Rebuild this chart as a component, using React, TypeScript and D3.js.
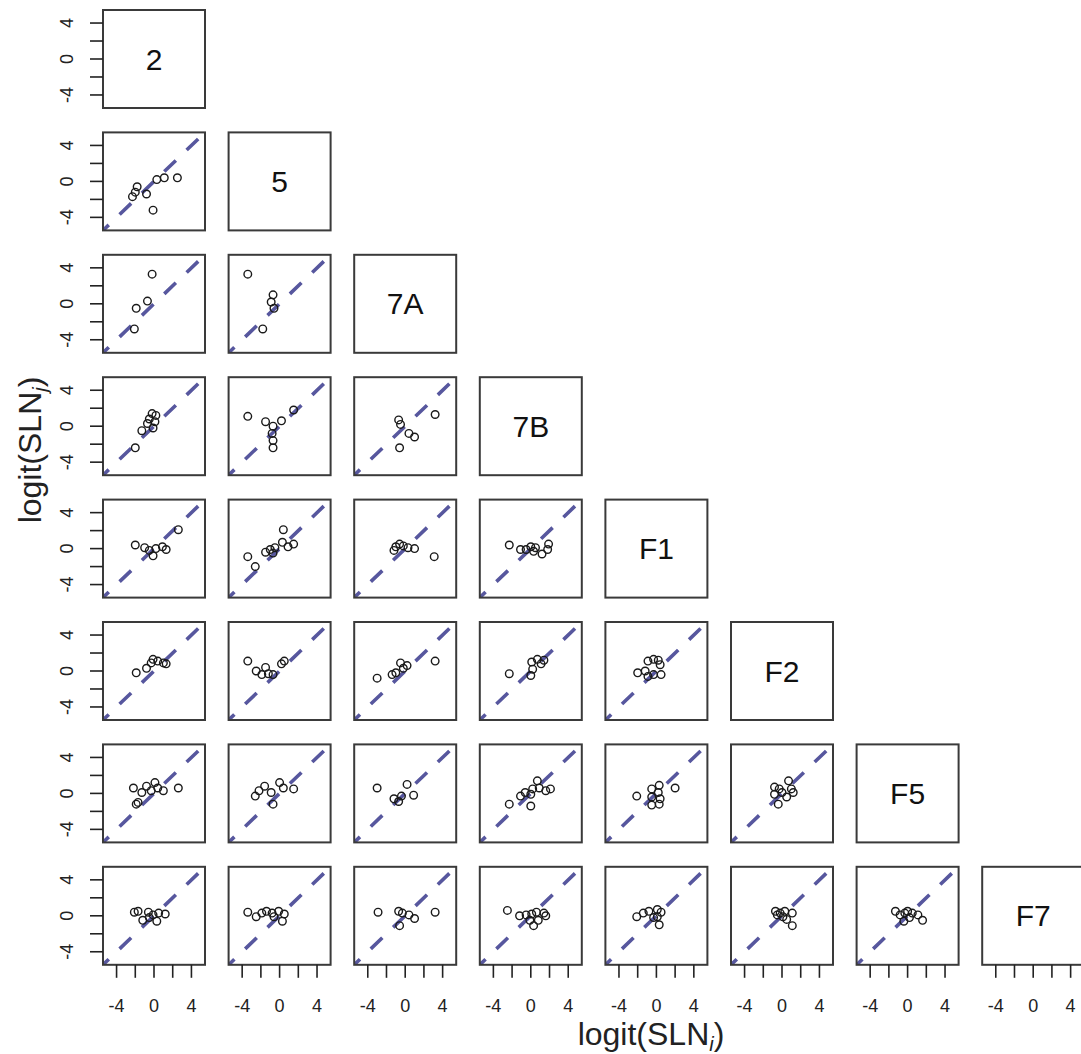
import React from "react";
import * as d3 from "d3";

// Variables on the diagonal
const VARS = ["2", "5", "7A", "7B", "F1", "F2", "F5", "F7"];
const TICKS = [-4, -2, 0, 2, 4];
const TICK_LABELS = [-4, 0, 4];
const DOMAIN: [number, number] = [-5.45, 5.45];

// Points per panel: [x (column variable), y (row variable)]
const y5_x2: [number, number][] = [[-1.8, -0.6], [-2.3, -1.7], [-2.0, -1.2], [-0.8, -1.4], [-0.1, -3.2], [0.3, 0.2], [1.1, 0.4], [2.5, 0.4]];

const y7A_x2: [number, number][] = [[-0.2, 3.3], [-0.7, 0.3], [-1.9, -0.5], [-2.1, -2.8]];
const y7A_x5: [number, number][] = [[-3.4, 3.3], [-0.7, 1.0], [-0.9, 0.2], [-0.6, -0.5], [-1.8, -2.8]];

const y7B_x2: [number, number][] = [[-0.2, 1.4], [0.2, 1.2], [-0.5, 0.8], [0.1, 0.5], [-0.1, -0.2], [-0.7, 0.3], [-1.3, -0.5], [-2.0, -2.4]];
const y7B_x5: [number, number][] = [[-3.4, 1.1], [-1.5, 0.5], [-0.7, 0.0], [-0.8, -0.8], [-0.7, -1.6], [-0.7, -2.4], [0.2, 0.6], [1.5, 1.8]];
const y7B_x7A: [number, number][] = [[-0.7, 0.7], [-0.5, 0.2], [0.4, -0.8], [1.0, -1.2], [-0.6, -2.4], [3.2, 1.3]];

const yF1_x2: [number, number][] = [[-2.0, 0.4], [-1.0, 0.1], [-0.5, -0.2], [-0.1, -0.8], [0.2, 0.0], [0.9, 0.2], [1.3, -0.1], [2.6, 2.1]];
const yF1_x5: [number, number][] = [[-3.4, -0.9], [-2.6, -2.0], [-1.5, -0.4], [-1.0, -0.1], [-0.5, 0.1], [-0.7, -0.5], [0.4, 2.1], [0.3, 0.7], [0.9, 0.2], [1.5, 0.5]];
const yF1_x7A: [number, number][] = [[-1.2, -0.2], [-1.0, 0.2], [-0.6, 0.5], [-0.2, 0.3], [0.3, 0.1], [1.0, 0.0], [3.1, -0.9]];
const yF1_x7B: [number, number][] = [[-2.3, 0.4], [-1.1, -0.1], [-0.5, -0.1], [0.0, 0.2], [0.5, 0.1], [1.2, -0.6], [1.8, -0.1], [1.9, 0.5], [0.3, -0.3]];

const yF2_x2: [number, number][] = [[-1.9, -0.2], [-0.8, 0.3], [-0.3, 0.9], [-0.1, 1.3], [0.4, 1.1], [1.0, 0.9], [1.3, 0.8]];
const yF2_x5: [number, number][] = [[-3.4, 1.1], [-2.5, 0.0], [-1.9, -0.4], [-1.5, 0.4], [-1.2, -0.3], [-0.7, -0.4], [0.2, 0.8], [0.5, 1.1]];
const yF2_x7A: [number, number][] = [[-3.0, -0.8], [-1.4, -0.4], [-1.0, -0.2], [-0.5, 0.9], [-0.2, 0.3], [0.2, 0.6], [3.2, 1.1]];
const yF2_x7B: [number, number][] = [[-2.3, -0.3], [0.1, 1.0], [0.7, 1.3], [1.4, 1.2], [0.2, 0.2], [0.0, -0.5], [1.1, 0.8]];
const yF2_xF1: [number, number][] = [[-2.0, -0.2], [-1.2, 0.0], [-0.9, 1.1], [-0.3, 1.3], [0.2, 1.2], [0.4, 0.7], [-0.9, -0.6], [-0.3, -0.4], [0.5, -0.4]];

const yF5_x2: [number, number][] = [[-2.2, 0.6], [-1.3, 0.1], [-0.8, 0.8], [-0.3, 0.3], [0.1, 1.2], [0.4, 0.6], [1.0, 0.3], [2.6, 0.6], [-1.9, -1.2], [-1.7, -1.0]];
const yF5_x5: [number, number][] = [[-2.6, -0.3], [-2.2, 0.3], [-1.6, 0.8], [-0.9, 0.1], [-0.7, -1.2], [0.0, 1.2], [0.4, 0.6], [1.5, 0.5]];
const yF5_x7A: [number, number][] = [[-3.0, 0.6], [0.2, 1.0], [0.9, -0.2], [-1.2, -0.6], [-0.7, -0.9], [-0.4, -0.3]];
const yF5_x7B: [number, number][] = [[-2.3, -1.2], [-1.1, -0.3], [-0.6, 0.1], [0.0, -0.1], [0.2, 0.5], [0.7, 1.4], [0.9, 0.6], [1.6, 0.3], [2.1, 0.5], [0.0, -1.4]];
const yF5_xF1: [number, number][] = [[-2.1, -0.3], [-0.5, 0.5], [0.3, 0.9], [0.2, 0.1], [-0.5, -0.4], [0.4, -0.6], [-0.5, -1.3], [0.3, -1.2], [2.0, 0.6]];
const yF5_xF2: [number, number][] = [[-0.8, 0.7], [0.7, 1.4], [1.0, 0.5], [0.0, 0.1], [-0.8, -0.1], [-0.4, -1.2], [0.5, -0.4], [1.2, 0.1], [-0.3, 0.5]];

const yF7_x2: [number, number][] = [[-2.1, 0.4], [-1.7, 0.5], [-1.2, -0.5], [-0.6, 0.4], [-0.1, 0.1], [0.3, -0.6], [0.5, 0.3], [1.2, 0.2], [-0.5, -0.2]];
const yF7_x5: [number, number][] = [[-3.4, 0.4], [-2.5, -0.1], [-1.9, 0.3], [-1.4, 0.5], [-0.8, 0.3], [-0.6, -0.1], [-0.1, 0.5], [0.3, -0.6], [0.5, 0.2]];
const yF7_x7A: [number, number][] = [[-2.9, 0.4], [-0.7, 0.5], [-0.3, 0.3], [0.4, 0.1], [1.0, -0.3], [-0.6, -1.1], [3.2, 0.4]];
const yF7_x7B: [number, number][] = [[-2.5, 0.6], [-1.2, 0.0], [-0.5, 0.1], [0.1, 0.2], [0.6, 0.4], [1.4, 0.3], [1.6, 0.0], [-0.1, -0.5], [0.3, -1.1], [0.8, -0.5]];
const yF7_xF1: [number, number][] = [[-2.1, -0.1], [-1.4, 0.3], [-0.8, 0.5], [0.1, 0.7], [0.5, 0.4], [0.1, -0.1], [0.3, -1.0], [-0.3, -0.2]];
const yF7_xF2: [number, number][] = [[-0.7, 0.5], [-0.2, 0.3], [0.3, 0.5], [0.1, -0.1], [1.1, 0.3], [0.5, -0.4], [1.1, -1.1], [-0.5, 0.1]];
const yF7_xF5: [number, number][] = [[-1.3, 0.5], [-0.8, 0.1], [-0.3, 0.3], [0.0, 0.5], [0.5, 0.3], [1.1, 0.1], [1.6, -0.5], [-0.4, -0.6], [0.2, -0.2]];

const PANEL_POINTS: Record<string, [number, number][]> = {
  "5|2": y5_x2,
  "7A|2": y7A_x2, "7A|5": y7A_x5,
  "7B|2": y7B_x2, "7B|5": y7B_x5, "7B|7A": y7B_x7A,
  "F1|2": yF1_x2, "F1|5": yF1_x5, "F1|7A": yF1_x7A, "F1|7B": yF1_x7B,
  "F2|2": yF2_x2, "F2|5": yF2_x5, "F2|7A": yF2_x7A, "F2|7B": yF2_x7B, "F2|F1": yF2_xF1,
  "F5|2": yF5_x2, "F5|5": yF5_x5, "F5|7A": yF5_x7A, "F5|7B": yF5_x7B, "F5|F1": yF5_xF1, "F5|F2": yF5_xF2,
  "F7|2": yF7_x2, "F7|5": yF7_x5, "F7|7A": yF7_x7A, "F7|7B": yF7_x7B, "F7|F1": yF7_xF1, "F7|F2": yF7_xF2, "F7|F5": yF7_xF5,
};

const FONT = "'Liberation Sans', Arial, Helvetica, sans-serif";
const LINE_COLOR = "#57579e";

export default function App() {
  const W = 1081, H = 1054;
  const left0 = 103, colStep = 125.6, pw = 102;
  const top0 = 10, rowStep = 122.4, ph = 98;
  const x = d3.scaleLinear().domain(DOMAIN).range([0, pw]);
  const y = d3.scaleLinear().domain(DOMAIN).range([ph, 0]);
  const n = VARS.length;

  const panels: React.ReactNode[] = [];
  for (let i = 0; i < n; i++) {
    for (let j = 0; j <= i; j++) {
      const tx = left0 + j * colStep;
      const ty = top0 + i * rowStep;
      const key = `${i}-${j}`;
      const children: React.ReactNode[] = [];
      if (i === j) {
        children.push(
          <text key="lab" x={pw / 2} y={ph / 2} textAnchor="middle" dominantBaseline="central"
            fontFamily={FONT} fontSize={30} fill="#111">{VARS[i]}</text>
        );
      } else {
        const pts = PANEL_POINTS[`${VARS[i]}|${VARS[j]}`] || [];
        const clipId = `clip-${key}`;
        children.push(
          <clipPath key="cp" id={clipId}><rect x={0} y={0} width={pw} height={ph} /></clipPath>
        );
        children.push(
          <line key="diag" clipPath={`url(#${clipId})`} x1={x(DOMAIN[0])} y1={y(DOMAIN[0])}
            x2={x(DOMAIN[1])} y2={y(DOMAIN[1])} stroke={LINE_COLOR} strokeWidth={3.6}
            strokeDasharray="16 15" strokeDashoffset={8} />
        );
        pts.forEach((p, k) => {
          children.push(
            <circle key={`p${k}`} cx={x(p[0])} cy={y(p[1])} r={3.8} fill="none" stroke="#1a1a1a" strokeWidth={1.4} />
          );
        });
      }
      children.push(
        <rect key="frame" x={0} y={0} width={pw} height={ph} fill="none" stroke="#3a3a3a" strokeWidth={2} />
      );
      // Y axis in first column
      if (j === 0) {
        TICKS.forEach((t) => {
          children.push(<line key={`yt${t}`} x1={-13} x2={0} y1={y(t)} y2={y(t)} stroke="#222" strokeWidth={1.6} />);
        });
        TICK_LABELS.forEach((t) => {
          children.push(
            <text key={`yl${t}`} transform={`translate(-30,${y(t)}) rotate(-90)`} textAnchor="middle"
              fontFamily={FONT} fontSize={18} fill="#222">{t}</text>
          );
        });
      }
      // X axis in bottom row
      if (i === n - 1) {
        TICKS.forEach((t) => {
          children.push(<line key={`xt${t}`} x1={x(t)} x2={x(t)} y1={ph} y2={ph + 13} stroke="#222" strokeWidth={1.6} />);
        });
        TICK_LABELS.forEach((t) => {
          children.push(
            <text key={`xl${t}`} x={x(t)} y={ph + 47} textAnchor="middle"
              fontFamily={FONT} fontSize={18} fill="#222">{t}</text>
          );
        });
      }
      panels.push(<g key={key} transform={`translate(${tx},${ty})`}>{children}</g>);
    }
  }

  return (
    <svg width={W} height={H} style={{ position: "absolute", left: 0, top: 0, background: "#fff" }}>
      <rect x={0} y={0} width={W} height={H} fill="#fff" />
      {panels}
      <text x={651} y={1045} textAnchor="middle" fontFamily={FONT} fontSize={32} fill="#222">
        logit(SLN<tspan fontSize={20} fontStyle="italic" dy={6}>i</tspan><tspan dy={-6}>)</tspan>
      </text>
      <text transform="translate(41,450) rotate(-90)" textAnchor="middle" fontFamily={FONT} fontSize={32} fill="#222">
        logit(SLN<tspan fontSize={20} fontStyle="italic" dy={6}>j</tspan><tspan dy={-6}>)</tspan>
      </text>
    </svg>
  );
}
